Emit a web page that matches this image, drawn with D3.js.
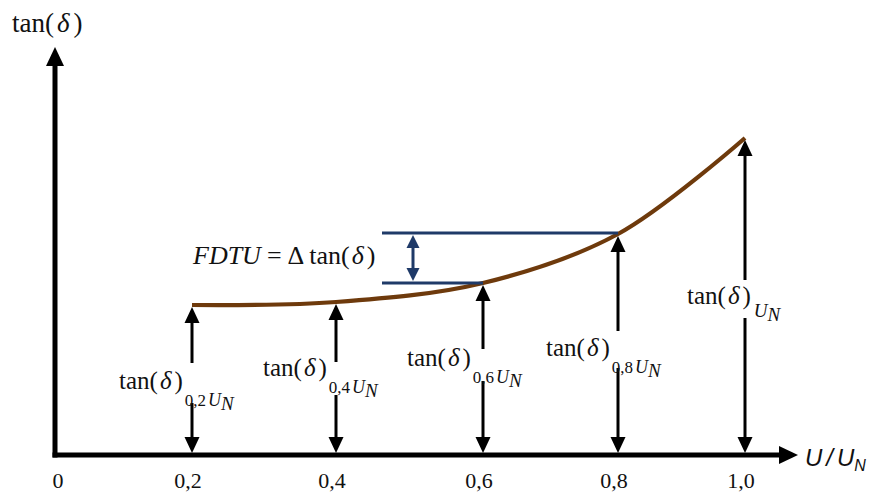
<!DOCTYPE html>
<html>
<head>
<meta charset="utf-8">
<script src="https://cdn.jsdelivr.net/npm/d3@7"></script>
<style>
  html, body { margin: 0; padding: 0; background: #fff; }
  svg { display: block; }
  text { font-family: "Liberation Serif", "Times New Roman", serif; fill: #111; }
</style>
</head>
<body>
<script>
// Relative voltage levels and the loss factor measured at each of them
const voltageLevels = [0.2, 0.4, 0.6, 0.8, 1.0];
const tanDelta = [1.50, 1.53, 1.72, 2.21, 3.17];
const tickValues = [0, 0.2, 0.4, 0.6, 0.8, 1.0];
const tickLabels = ["0", "0,2", "0,4", "0,6", "0,8", "1,0"];
const levelSubscripts = ["0,2", "0,4", "0,6", "0,8", ""];
const yMax = 4.08;

// Placement of each arrow label (offset from arrow, baseline, gap in the arrow)
const labelLayout = [
  { dx: -73, base: 389, gapTop: 363, gapBot: 403 },
  { dx: -73, base: 376, gapTop: 362, gapBot: 395 },
  { dx: -76, base: 366, gapTop: 349, gapBot: 381 },
  { dx: -72, base: 356, gapTop: 331, gapBot: 368 },
  { dx: -58, base: 304, gapTop: 280, gapBot: 318 }
];

const W = 870, H = 495;
const svg = d3.select("body").append("svg").attr("width", W).attr("height", H);

// Schematic axis: the voltage steps are not equally spaced on the sketch
const x = d3.scaleLinear()
  .domain([0, 0.2, 0.4, 0.6, 0.8, 1.0])
  .range([55, 192, 336, 483, 618, 745]);
const y = d3.scaleLinear().domain([0, yMax]).range([455, 47]);

const black = "#000";
const blue = "#1f3a68";
const brown = "#6e3a0c";

function head(g, tipX, tipY, dir, w, h, color) {
  // dir: -1 pointing up, 1 pointing down, 2 pointing right
  let pts;
  if (dir === 2) pts = [[tipX, tipY], [tipX - h, tipY - w / 2], [tipX - h, tipY + w / 2]];
  else pts = [[tipX, tipY], [tipX - w / 2, tipY - dir * h], [tipX + w / 2, tipY - dir * h]];
  g.append("path").attr("d", d3.line()(pts) + "Z").attr("fill", color);
}

// Axes
const axes = svg.append("g");
const x0 = x(0), y0 = y(0);
const xEnd = x(1.0) + 53;
axes.append("line").attr("x1", x0).attr("x2", x0).attr("y1", y0 + 2.5).attr("y2", y(yMax) + 16)
  .attr("stroke", black).attr("stroke-width", 5);
head(axes, x0, y(yMax), -1, 18, 19, black);
axes.append("line").attr("x1", x0 - 2.5).attr("x2", xEnd - 16).attr("y1", y0).attr("y2", y0)
  .attr("stroke", black).attr("stroke-width", 5);
head(axes, xEnd, y0, 2, 18, 19, black);

// Tick labels
svg.append("g").selectAll("text").data(tickValues).join("text")
  .attr("x", (d, i) => i === 0 ? x(d) + 3 : x(d) - 4)
  .attr("y", 488)
  .attr("text-anchor", "middle")
  .attr("font-size", 22)
  .text((d, i) => tickLabels[i]);

// Axis titles
const yTitle = svg.append("text").attr("x", 12).attr("y", 32).attr("font-size", 27);
yTitle.append("tspan").text("tan(");
yTitle.append("tspan").attr("font-style", "italic").attr("dx", 3).text("δ");
yTitle.append("tspan").attr("dx", 4).text(")");

const xTitle = svg.append("text").attr("x", 805).attr("y", 466)
  .style("font-family", "'Liberation Sans', Arial, sans-serif")
  .attr("font-style", "italic").attr("font-size", 24);
xTitle.append("tspan").text("U");
xTitle.append("tspan").attr("dx", 4).text("/");
xTitle.append("tspan").attr("dx", 4).text("U");
xTitle.append("tspan").attr("font-size", 16).attr("dy", 5).text("N");

// Loss factor curve
const pts = voltageLevels.map((v, i) => [x(v), y(tanDelta[i])]);
svg.append("path")
  .attr("d", d3.line().curve(d3.curveCatmullRom.alpha(0.5))(pts))
  .attr("fill", "none").attr("stroke", brown).attr("stroke-width", 4.2)
  .attr("stroke-linecap", "butt");

// Vertical measurement arrows with their labels
const arrows = svg.append("g");
voltageLevels.forEach((v, i) => {
  const ax = x(v);
  const top = y(tanDelta[i]) + 2;
  const bot = y0 - 2;
  const L = labelLayout[i];
  arrows.append("line").attr("x1", ax).attr("x2", ax).attr("y1", top + 14).attr("y2", L.gapTop)
    .attr("stroke", black).attr("stroke-width", 3);
  arrows.append("line").attr("x1", ax).attr("x2", ax).attr("y1", L.gapBot).attr("y2", bot - 14)
    .attr("stroke", black).attr("stroke-width", 3);
  head(arrows, ax, top, -1, 15, 16, black);
  head(arrows, ax, bot, 1, 15, 16, black);

  const t = arrows.append("text").attr("x", ax + L.dx).attr("y", L.base).attr("font-size", 25);
  t.append("tspan").text("tan(");
  t.append("tspan").attr("font-style", "italic").attr("dx", 2).text("δ");
  t.append("tspan").attr("dx", 3).text(")");
  if (levelSubscripts[i]) {
    t.append("tspan").attr("font-size", 17).attr("dx", 2).attr("dy", 17).text(levelSubscripts[i]);
    t.append("tspan").attr("font-size", 18).attr("font-style", "italic").attr("dx", 2).text("U");
  } else {
    t.append("tspan").attr("font-size", 19).attr("font-style", "italic").attr("dx", 3).attr("dy", 13).text("U");
  }
  t.append("tspan").attr("font-size", 19).attr("font-style", "italic").attr("dy", 4).text("N");
});

// FDTU bracket between the 0.6 and 0.8 levels
const bx0 = 382, bArrowX = 413;
const yHi = y(tanDelta[3]) - 1, yLo = y(tanDelta[2]);
const br = svg.append("g");
br.append("line").attr("x1", bx0).attr("x2", x(0.8)).attr("y1", yHi).attr("y2", yHi)
  .attr("stroke", blue).attr("stroke-width", 3);
br.append("line").attr("x1", bx0).attr("x2", x(0.6)).attr("y1", yLo).attr("y2", yLo)
  .attr("stroke", blue).attr("stroke-width", 3);
br.append("line").attr("x1", bArrowX).attr("x2", bArrowX).attr("y1", yHi + 12).attr("y2", yLo - 12)
  .attr("stroke", blue).attr("stroke-width", 3);
head(br, bArrowX, yHi + 2, -1, 13, 13, blue);
head(br, bArrowX, yLo - 2, 1, 13, 13, blue);

const ft = svg.append("text").attr("x", 193).attr("y", 264).attr("font-size", 26);
ft.append("tspan").attr("font-style", "italic").text("FDTU");
ft.append("tspan").attr("dx", 6).text("=");
ft.append("tspan").attr("dx", 6).text("Δ");
ft.append("tspan").attr("dx", 5).text("tan(");
ft.append("tspan").attr("font-style", "italic").attr("dx", 2).text("δ");
ft.append("tspan").attr("dx", 3).text(")");
</script>
</body>
</html>
